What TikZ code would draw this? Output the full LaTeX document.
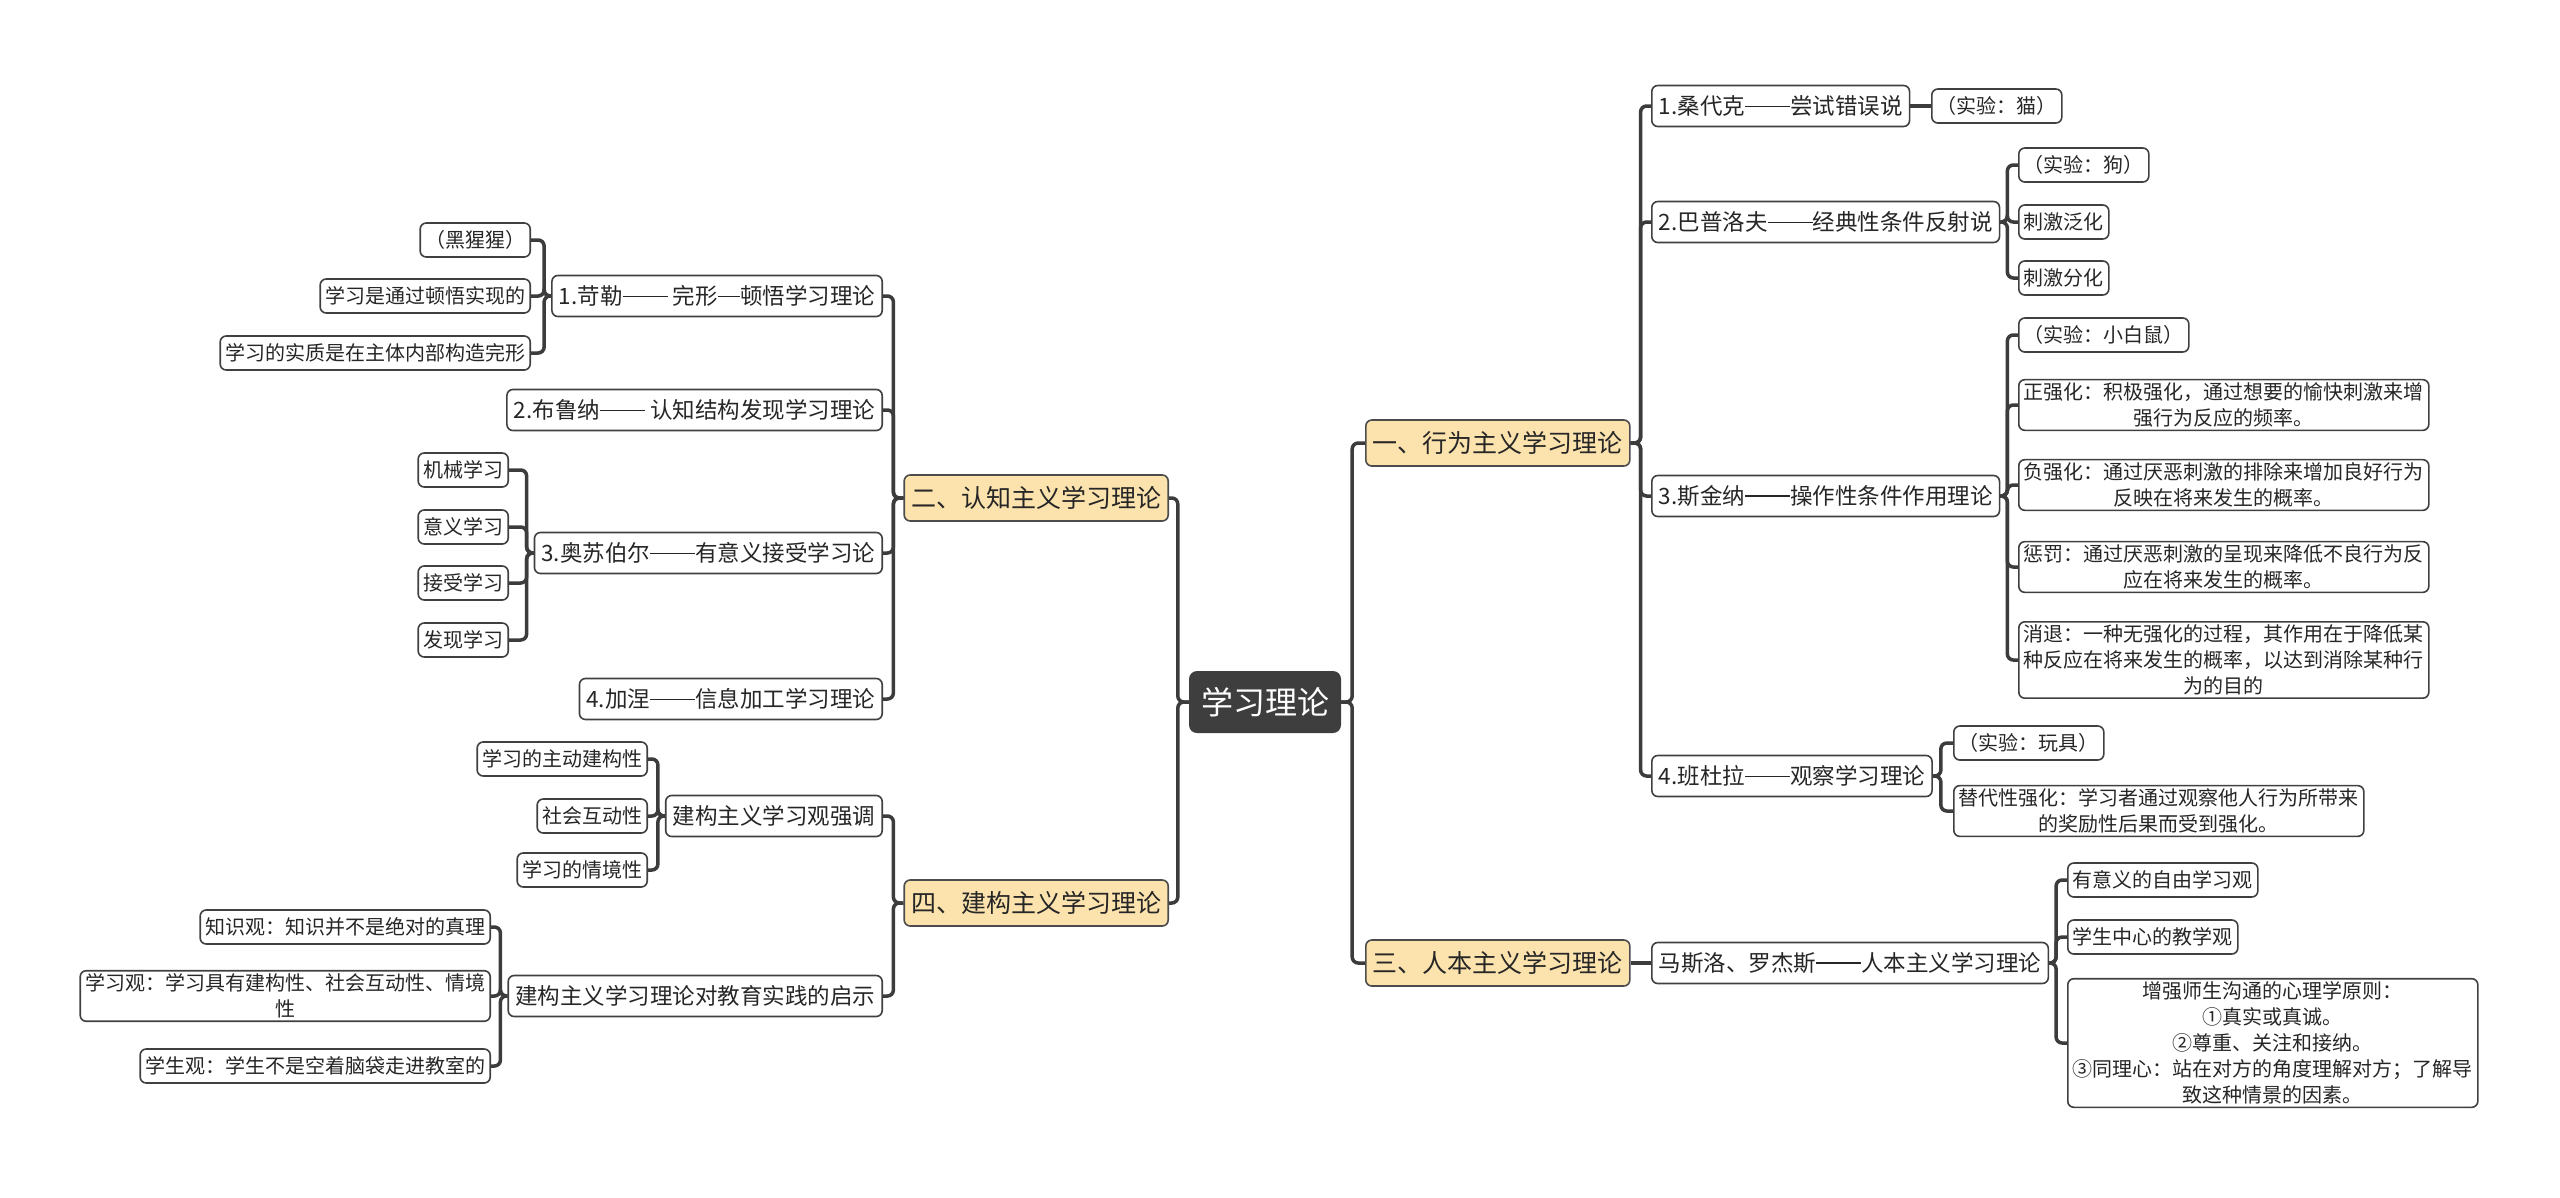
\documentclass[tikz,border=0pt]{standalone}
\usepackage{fontspec}
\setmainfont{Noto Sans CJK SC}
\definecolor{mainfill}{HTML}{FCE3AE}
\definecolor{rootfill}{HTML}{3E3E3E}
\definecolor{linkgray}{HTML}{3C3C3C}
% full-width dash, as wide as one character
\newcommand\cjkdash{\rule[0.34em]{1em}{0.06em}}
\begin{document}
\begin{tikzpicture}[x=1pt, y=-1pt,
  every node/.style={text=black!85},
  leaf/.style={draw=black!75, line width=1.6pt, fill=white, rounded corners=6pt,
    font=\fontsize{20}{26}\selectfont, inner xsep=5pt, inner ysep=3pt,
    minimum height=34pt, align=center},
  wide/.style={leaf, text width=400pt},
  mid/.style={leaf, font=\fontsize{22.5}{28}\selectfont, minimum height=41pt, inner xsep=7pt},
  main/.style={leaf, fill=mainfill, draw=black!70, font=\fontsize{25}{30}\selectfont,
    minimum height=46pt, inner xsep=7pt},
  root/.style={fill=rootfill, text=white, rounded corners=8pt,
    font=\fontsize{32}{38}\selectfont, minimum height=62pt, inner xsep=12pt},
  link/.style={draw=linkgray, line width=3.5pt, rounded corners=6pt}]
  \useasboundingbox (0,0) rectangle (2560,1197);

  % root and main branches
  \node[root] (root) at (1265,702) {学习理论};
  \node[main, anchor=west] (b1) at (1365,443) {一、行为主义学习理论};
  \node[main, anchor=west] (b3) at (1365,963) {三、人本主义学习理论};
  \node[main, anchor=east] (b2) at (1169,498) {二、认知主义学习理论};
  \node[main, anchor=east] (b4) at (1169,903) {四、建构主义学习理论};

  % right: behaviourism
  \node[mid, anchor=west] (r1) at (1651,106) {1.桑代克\cjkdash\cjkdash 尝试错误说};
  \node[mid, anchor=west] (r2) at (1651,222) {2.巴普洛夫\cjkdash\cjkdash 经典性条件反射说};
  \node[mid, anchor=west] (r3) at (1651,496) {3.斯金纳\cjkdash\cjkdash 操作性条件作用理论};
  \node[mid, anchor=west] (r4) at (1651,776) {4.班杜拉\cjkdash\cjkdash 观察学习理论};
  \node[leaf, anchor=west] (r1a) at (1931,106) {（实验：猫）};
  \node[leaf, anchor=west] (r2a) at (2018,165) {（实验：狗）};
  \node[leaf, anchor=west] (r2b) at (2018,222) {刺激泛化};
  \node[leaf, anchor=west] (r2c) at (2018,278) {刺激分化};
  \node[leaf, anchor=west] (r3a) at (2018,335) {（实验：小白鼠）};
  \node[wide, anchor=west] (r3b) at (2018,405) {正强化：积极强化，通过想要的愉快刺激来增\\强行为反应的频率。};
  \node[wide, anchor=west] (r3c) at (2018,485) {负强化：通过厌恶刺激的排除来增加良好行为\\反映在将来发生的概率。};
  \node[wide, anchor=west] (r3d) at (2018,567) {惩罚：通过厌恶刺激的呈现来降低不良行为反\\应在将来发生的概率。};
  \node[wide, anchor=west] (r3e) at (2018,660) {消退：一种无强化的过程，其作用在于降低某\\种反应在将来发生的概率，以达到消除某种行\\为的目的};
  \node[leaf, anchor=west] (r4a) at (1953,743) {（实验：玩具）};
  \node[wide, anchor=west] (r4b) at (1953,811) {替代性强化：学习者通过观察他人行为所带来\\的奖励性后果而受到强化。};

  % right: humanism
  \node[mid, anchor=west] (r5) at (1651,963) {马斯洛、罗杰斯\cjkdash\cjkdash 人本主义学习理论};
  \node[leaf, anchor=west] (r5a) at (2067,880) {有意义的自由学习观};
  \node[leaf, anchor=west] (r5b) at (2067,937) {学生中心的教学观};
  \node[wide, anchor=west] (r5c) at (2067,1043) {增强师生沟通的心理学原则：\\①真实或真诚。\\②尊重、关注和接纳。\\③同理心：站在对方的角度理解对方；了解导\\致这种情景的因素。};

  % left: cognitivism
  \node[mid, anchor=east] (l1) at (883,296) {1.苛勒\cjkdash\cjkdash\ 完形\cjkdash 顿悟学习理论};
  \node[mid, anchor=east] (l2) at (883,410) {2.布鲁纳\cjkdash\cjkdash\ 认知结构发现学习理论};
  \node[mid, anchor=east] (l3) at (883,553) {3.奥苏伯尔\cjkdash\cjkdash 有意义接受学习论};
  \node[mid, anchor=east] (l4) at (883,699) {4.加涅\cjkdash\cjkdash 信息加工学习理论};
  \node[leaf, anchor=east] (l1a) at (531,240) {（黑猩猩）};
  \node[leaf, anchor=east] (l1b) at (531,296) {学习是通过顿悟实现的};
  \node[leaf, anchor=east] (l1c) at (531,353) {学习的实质是在主体内部构造完形};
  \node[leaf, anchor=east] (l3a) at (509,470) {机械学习};
  \node[leaf, anchor=east] (l3b) at (509,527) {意义学习};
  \node[leaf, anchor=east] (l3c) at (509,583) {接受学习};
  \node[leaf, anchor=east] (l3d) at (509,640) {发现学习};

  % left: constructivism
  \node[mid, anchor=east] (l5) at (883,816) {建构主义学习观强调};
  \node[mid, anchor=east] (l6) at (883,996) {建构主义学习理论对教育实践的启示};
  \node[leaf, anchor=east] (l5a) at (648,759) {学习的主动建构性};
  \node[leaf, anchor=east] (l5b) at (648,816) {社会互动性};
  \node[leaf, anchor=east] (l5c) at (648,870) {学习的情境性};
  \node[leaf, anchor=east] (l6a) at (491,927) {知识观：知识并不是绝对的真理};
  \node[wide, anchor=east] (l6b) at (491,996) {学习观：学习具有建构性、社会互动性、情境\\性};
  \node[leaf, anchor=east] (l6c) at (491,1066) {学生观：学生不是空着脑袋走进教室的};

  % connectors
  \foreach \c in {b1,b3} \draw[link] (root.east) -- ++(11,0) |- (\c.west);
  \foreach \c in {b2,b4} \draw[link] (root.west) -- ++(-11,0) |- (\c.east);
  \foreach \c in {r1,r2,r3,r4} \draw[link] (b1.east) -- ++(10,0) |- (\c.west);
  \draw[link] (b3.east) -- (r5.west);
  \draw[link] (r1.east) -- (r1a.west);
  \foreach \c in {r2a,r2b,r2c} \draw[link] (r2.east) -- ++(7,0) |- (\c.west);
  \foreach \c in {r3a,r3b,r3c,r3d,r3e} \draw[link] (r3.east) -- ++(7,0) |- (\c.west);
  \foreach \c in {r4a,r4b} \draw[link] (r4.east) -- ++(8,0) |- (\c.west);
  \foreach \c in {r5a,r5b,r5c} \draw[link] (r5.east) -- ++(7,0) |- (\c.west);
  \foreach \c in {l1,l2,l3,l4} \draw[link] (b2.west) -- ++(-10,0) |- (\c.east);
  \foreach \c in {l5,l6} \draw[link] (b4.west) -- ++(-10,0) |- (\c.east);
  \foreach \c in {l1a,l1b,l1c} \draw[link] (l1.west) -- ++(-7,0) |- (\c.east);
  \foreach \c in {l3a,l3b,l3c,l3d} \draw[link] (l3.west) -- ++(-7,0) |- (\c.east);
  \foreach \c in {l5a,l5b,l5c} \draw[link] (l5.west) -- ++(-7,0) |- (\c.east);
  \foreach \c in {l6a,l6b,l6c} \draw[link] (l6.west) -- ++(-7,0) |- (\c.east);
\end{tikzpicture}
\end{document}
